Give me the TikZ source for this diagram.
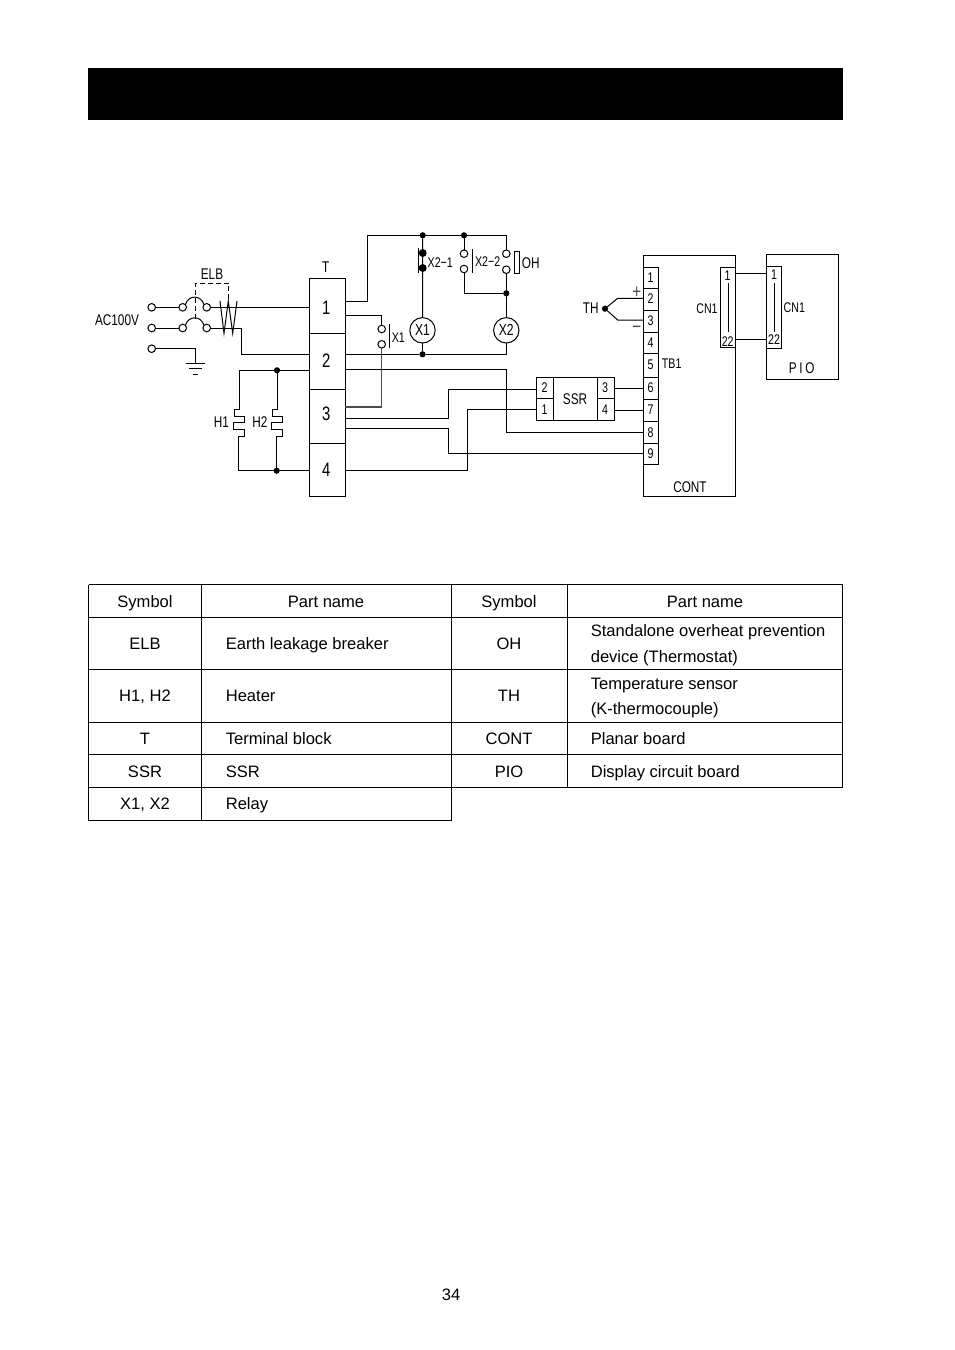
\documentclass[tikz,border=0pt]{standalone}
\usepackage{fontspec}
\setmainfont{Liberation Sans}
\newfontfamily\cadfont[FakeStretch=0.76]{Liberation Sans}
\usetikzlibrary{positioning, calc}

\tikzset{
  term/.style={draw, circle, fill=white, inner sep=0, minimum size=7.6, outer sep=0},
  dotnode/.style={fill, circle, inner sep=0, minimum size=6.2, outer sep=0},
  coil/.style={draw, circle, inner sep=0, minimum size=25.4, outer sep=0, font=\cadfont\fontsize{16}{16}\selectfont},
  bignum/.style={inner sep=0, font=\cadfont\fontsize{19.5}{19.5}\selectfont},
  cadtext/.style={inner sep=0, font=\cadfont\fontsize{15.5}{15.5}\selectfont},
  smalltext/.style={inner sep=0, font=\cadfont\fontsize{14}{14}\selectfont},
  signtext/.style={inner sep=0, text=black!70, font=\cadfont\fontsize{20}{20}\selectfont},
  tabtext/.style={inner sep=0, anchor=base, font=\fontsize{16.55}{25}\selectfont},
  tableft/.style={tabtext, anchor=base west},
}

\begin{document}
\begin{tikzpicture}[x=1pt, y=-1pt, line width=1pt]
  \useasboundingbox (0,0) rectangle (954,1350);

  % header bar
  \fill (88,68) rectangle (843,120);

  % incoming side
  \node[term] (ac1) at (151.7,307.3) {};
  \node[term] (ac2) at (151.7,328) {};
  \node[term] (ac3) at (151.7,348.7) {};
  \node[term] (brk1l) at (182.7,307.3) {};
  \node[term] (brk1r) at (206.7,307.3) {};
  \node[term] (brk2l) at (182.7,328) {};
  \node[term] (brk2r) at (206.7,328) {};
  \node[cadtext] (aclabel) at (117,320) {AC100V};
  \node[cadtext] (elblabel) at (212,274.3) {ELB};
  \draw (ac1) -- (brk1l);
  \draw (ac2) -- (brk2l);
  \draw (brk1l.north east) .. controls +(3,-10) and +(-3,-10) .. (brk1r.north west);
  \draw (brk2l.north east) .. controls +(3,-10) and +(-3,-10) .. (brk2r.north west);
  \draw[dash pattern=on 5pt off 3pt, line width=0.8pt] (195,318.5) -- (195,283.3) -- (228.7,283.3) -- (228.7,301);
  \draw (220,301) -- (224,333.3) -- (228.3,301) -- (232.7,333.3) -- (237,301);

  % earth
  \coordinate (gnd) at (195.3,363.3);
  \draw (ac3) -| (gnd);
  \draw (185.7,363.3) -- (205,363.3);
  \draw (189,368.3) -- (201.7,368.3);
  \draw (192.7,374) -- (198.3,374);

  % terminal block
  \draw (309.3,278.3) rectangle (345.3,496.7);
  \foreach \y in {333.3,389.3,443.3}
    \draw (309.3,\y) -- (345.3,\y);
  \foreach \n/\y in {1/307.3,2/360.7,3/414,4/469.3}
    \node[bignum] (t\n) at (326.3,\y) {\n};
  \node[cadtext] (tlabel) at (325.7,267.3) {T};
  \foreach \n/\y in {a/307.3,b/354.3,c/370.3,d/470.7}
    \coordinate (tl\n) at (309.3,\y);
  \foreach \n/\y in {a/301.3,b/315.3,c/354.3,d/369.3,e/407,f/418.3,g/428.3,h/470.3}
    \coordinate (tr\n) at (345.3,\y);
  \draw (brk1r) -- (tla);
  \coordinate (brkbend) at (241.7,328);
  \draw (brk2r) -- (brkbend) |- (tlb);

  % heaters
  \node[dotnode] (h2top) at (277,370.3) {};
  \node[dotnode] (h2bot) at (276.7,470.7) {};
  \node[cadtext] (h1label) at (221.3,422.3) {H1};
  \node[cadtext] (h2label) at (260,422.3) {H2};
  \coordinate (h1a) at (239.3,409);
  \coordinate (h1b) at (238,436);
  \draw (tlc) -- (h2top);
  \draw (h2top) -- (239.3,370.3) -- (h1a) -- (234.3,409) -- (234.3,416) -- (244,416) -- (244,422.7)
    -- (233.3,422.7) -- (233.3,429.3) -- (244,429.3) -- (244,436) -- (h1b) -- (238,470.7) -- (h2bot);
  \draw (h2top) -- (277,409) -- (272.3,409) -- (272.3,416) -- (282,416) -- (282,422.7)
    -- (271.3,422.7) -- (271.3,429.3) -- (282,429.3) -- (282,436) -- (276.7,436) -- (h2bot);
  \draw (h2bot) -- (tld);

  % relays
  \node[dotnode] (topx1) at (422.7,235.3) {};
  \node[dotnode] (topx2) at (464,235.3) {};
  \coordinate (topl) at (367.3,235.3);
  \coordinate (topr) at (506.3,235.3);
  \node[coil] (x1) at (422.5,330.3) {X1};
  \node[coil] (x2) at (506.3,330.3) {X2};
  \node[dotnode] (botx1) at (422.5,354.3) {};
  \node[dotnode] (joinx2) at (506.3,293.3) {};
  \node[dotnode, minimum size=8] (nc1) at (422.7,253) {};
  \node[dotnode, minimum size=8] (nc2) at (422.7,268) {};
  \node[term] (x22a) at (464,253.7) {};
  \node[term] (x22b) at (464,269) {};
  \node[term] (oha) at (506.3,253.7) {};
  \node[term] (ohb) at (506.3,269.7) {};
  \node[term] (x1a) at (381.7,329) {};
  \node[term] (x1b) at (381.7,344.3) {};
  \node[smalltext] (x21label) at (440.3,262.3) {X2−1};
  \node[smalltext] (x22label) at (487.7,261.7) {X2−2};
  \node[cadtext] (ohlabel) at (530.7,263.3) {OH};
  \node[smalltext] (x1label) at (398.3,337.3) {X1};
  \draw (tra) -| (topl) -- (topr) -- (oha);
  \draw (topx1) -- (x1);
  \draw (topx2) -- (x22a);
  \draw (x22b) |- (joinx2);
  \draw (ohb) -- (x2);
  \draw (trb) -| (x1a);
  \draw[black!70, line width=1.3pt] (x1b) |- (tre);
  \draw (trc) -- (botx1);
  \draw (x1) -- (botx1);
  \coordinate (botr) at (506.3,354.3);
  \draw (botx1) -- (botr) -- (x2);
  \draw (418.7,248.3) -- (418.7,272.7);
  \draw (472,249) -- (472,273.3);
  \draw (389.7,324) -- (389.7,348.3);
  \draw (514.7,251.7) rectangle (519.3,273.3);

  % ssr
  \draw (536.3,377.3) rectangle (614.3,420.3);
  \draw (553.3,377.3) -- (553.3,420.3);
  \draw (597.3,377.3) -- (597.3,420.3);
  \draw (536.3,398.5) -- (553.3,398.5);
  \draw (597.3,398.5) -- (614.3,398.5);
  \node[smalltext] (ssrtwo) at (544.7,387.7) {2};
  \node[smalltext] (ssrone) at (544.7,409.3) {1};
  \node[smalltext] (ssrthree) at (605,387.7) {3};
  \node[smalltext] (ssrfour) at (605,409.3) {4};
  \node[cadtext] (ssrlabel) at (575,398.7) {SSR};
  \coordinate (ssrl2) at (536.3,389);
  \coordinate (ssrl1) at (536.3,409.3);
  \coordinate (ssrr3) at (614.3,388.7);
  \coordinate (ssrr4) at (614.3,410.7);

  % cont board
  \draw (643.3,255.3) rectangle (735.3,496);
  \draw (643.3,267.3) rectangle (658.7,464.3);
  \foreach \y in {288.3,310.3,332.7,353.7,377,399.3,421.7,443.3}
    \draw (643.3,\y) -- (658.7,\y);
  \foreach \n/\y in {1/277.5,2/299,3/321,4/343,5/365,6/388,7/410,8/432.5,9/453.5}
    \node[smalltext] (tb\n) at (650.7,\y) {\n};
  \node[smalltext] (tblabel) at (671.7,364) {TB1};
  \node[cadtext] (contlabel) at (690,486.7) {CONT};
  \coordinate (tbl2) at (643.3,298.3);
  \coordinate (tbl3) at (643.3,320);
  \coordinate (tbl6) at (643.3,388.7);
  \coordinate (tbl7) at (643.3,410.7);
  \coordinate (tbl8) at (643.3,432.3);
  \coordinate (tbl9) at (643.3,453.3);
  \draw (trd) -| (506.3,432.3) -- (tbl8);
  \draw (trf) -| (448.7,389) -- (ssrl2);
  \draw (trg) -| (448.7,453.3) -- (tbl9);
  \draw (trh) -| (467.3,409.3) -- (ssrl1);
  \draw (ssrr3) -- (tbl6);
  \draw (ssrr4) -- (tbl7);

  % thermocouple
  \node[dotnode] (thdot) at (605,308.7) {};
  \node[cadtext] (thlabel) at (590.7,308.3) {TH};
  \node[signtext] (plus) at (636.7,292.5) {+};
  \node[signtext] (minus) at (636.7,329.5) {−};
  \draw (thdot) -- (617.7,298.3) -- (tbl2);
  \draw (thdot) -- (617.7,320) -- (tbl3);

  % connectors
  \draw (720.3,267.3) rectangle (735.3,347.3);
  \draw (728.3,283.3) -- (728.3,332.3);
  \node[smalltext] (cnaone) at (727.7,275.7) {1};
  \node[smalltext] (cnatt) at (727.7,341.7) {22};
  \node[smalltext] (cnalabel) at (707,308.3) {CN1};
  \draw (766.3,254.3) rectangle (838.3,379.3);
  \draw (766.3,266) rectangle (781.3,348.3);
  \draw (774,283.3) -- (774,332.3);
  \node[smalltext] (cnbone) at (774,274.3) {1};
  \node[smalltext] (cnbtt) at (774,340) {22};
  \node[smalltext] (cnblabel) at (794.3,307.7) {CN1};
  \node[cadtext] (piolabel) at (801.7,368.3) {P\,I\,O};
  \coordinate (cnar1) at (735.3,273.3);
  \coordinate (cnbl1) at (766.3,273.3);
  \coordinate (cnar22) at (735.3,339.3);
  \coordinate (cnbl22) at (766.3,339.3);
  \draw (cnar1) -- (cnbl1);
  \draw (cnar22) -- (cnbl22);

  % parts table
  \foreach \y in {584.5,617.5,669.5,722.5,754.5,787.5}
    \draw (88.5,\y) -- (842.5,\y);
  \draw (88.5,820.5) -- (451.5,820.5);
  \foreach \x in {88.5,201.5,451.5}
    \draw (\x,584.5) -- (\x,820.5);
  \foreach \x in {567.5,842.5}
    \draw (\x,584.5) -- (\x,787.5);
  \node[tabtext] (heada) at (145,607) {Symbol};
  \node[tabtext] (headb) at (326,607) {Part name};
  \node[tabtext] (headc) at (509,607) {Symbol};
  \node[tabtext] (headd) at (705,607) {Part name};
  \foreach \r/\y/\s/\p in {elb/649/ELB/Earth leakage breaker, heat/701/{H1, H2}/Heater, tblock/744/T/Terminal block, ssrrow/777/SSR/SSR, relay/809/{X1, X2}/Relay}{
    \node[tabtext] (sym\r) at (145,\y) {\s};
    \node[tableft] (name\r) at (225.3,\y) {\p};
  }
  \foreach \r/\y/\s/\p in {oh/649/OH/, th/701/TH/, controw/744/CONT/Planar board, pio/777/PIO/Display circuit board}{
    \node[tabtext] (sym\r) at (509,\y) {\s};
    \node[tableft] (name\r) at (590.3,\y) {\p};
  }
  \node[tableft] (ohtext) at (590.3,636.5) {Standalone overheat prevention};
  \node[tableft] (ohtextb) at (590.3,662) {device (Thermostat)};
  \node[tableft] (thtext) at (590.3,689) {Temperature sensor};
  \node[tableft] (thtextb) at (590.3,714) {(K-thermocouple)};

  % page number
  \node[tabtext] (pagenum) at (451,1300) {34};
\end{tikzpicture}
\end{document}
